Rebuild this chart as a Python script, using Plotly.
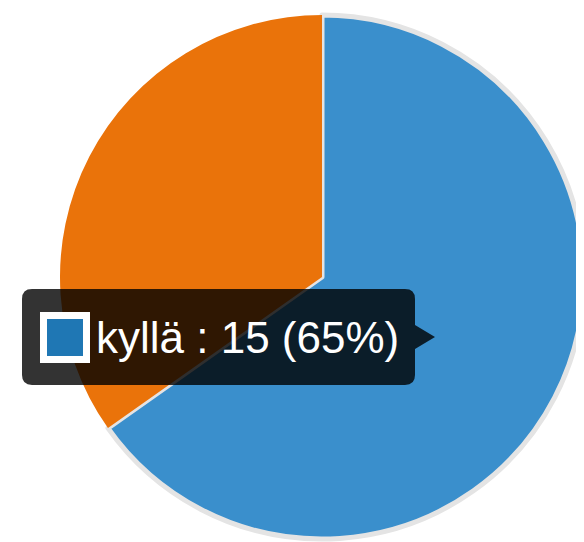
import plotly.graph_objects as go

labels = ["kyllä", "ei"]
values = [15, 8]
colors = ["#3a8fcc", "#ea730a"]
tooltip_label = "kyllä"
tooltip_value = 15

# page body has an 8px margin; figure is sized to fit the window
OFF = 8
W, H = 584 - OFF, 542 - OFF


def px(x):
    return (x - OFF) / W


def py(y):
    return 1 - (y - OFF) / H


fig = go.Figure()
fig.add_trace(go.Pie(
    labels=labels,
    values=values,
    sort=False,
    direction="clockwise",
    rotation=0,
    textinfo="none",
    hoverinfo="none",
    showlegend=False,
    marker=dict(colors=colors, line=dict(color=["#e4e4e4", "#e4e4e4"], width=[5, 0])),
    domain=dict(x=[px(322 - 262), 1.0], y=[py(539), py(15)]),
))

# tooltip box (rounded rect with arrow)
x0, x1, y0, y1, r = 22, 415, 289, 385, 10
pts = [
    ("M", x0 + r, y0), ("L", x1 - r, y0), ("Q", x1, y0, x1, y0 + r),
    ("L", x1, 325), ("L", 435, 337), ("L", x1, 349),
    ("L", x1, y1 - r), ("Q", x1, y1, x1 - r, y1),
    ("L", x0 + r, y1), ("Q", x0, y1, x0, y1 - r),
    ("L", x0, y0 + r), ("Q", x0, y0, x0 + r, y0),
]
path = ""
for p in pts:
    cmd = p[0]
    coords = p[1:]
    parts = []
    for i in range(0, len(coords), 2):
        parts.append(f"{px(coords[i]):.5f},{py(coords[i+1]):.5f}")
    path += cmd + " ".join(parts) + " "
path += "Z"

fig.add_shape(type="path", path=path, xref="paper", yref="paper",
              fillcolor="rgba(0,0,0,0.8)", line=dict(width=0))
fig.add_shape(type="rect", xref="paper", yref="paper",
              x0=px(43.5), x1=px(86.5), y0=py(359.5), y1=py(315.5),
              fillcolor="#1f77b4", line=dict(color="white", width=7))

pct = round(100 * tooltip_value / sum(values))
fig.add_annotation(x=px(94), y=py(337), xref="paper", yref="paper",
                   xanchor="left", yanchor="middle", showarrow=False,
                   text=f"{tooltip_label} : {tooltip_value} ({pct}%)",
                   font=dict(family="Liberation Sans, Arial, sans-serif", size=44, color="white"))

fig.update_layout(width=W, height=H, margin=dict(l=0, r=0, t=0, b=0),
                  paper_bgcolor="white", plot_bgcolor="white")
fig.write_html("out.html")
